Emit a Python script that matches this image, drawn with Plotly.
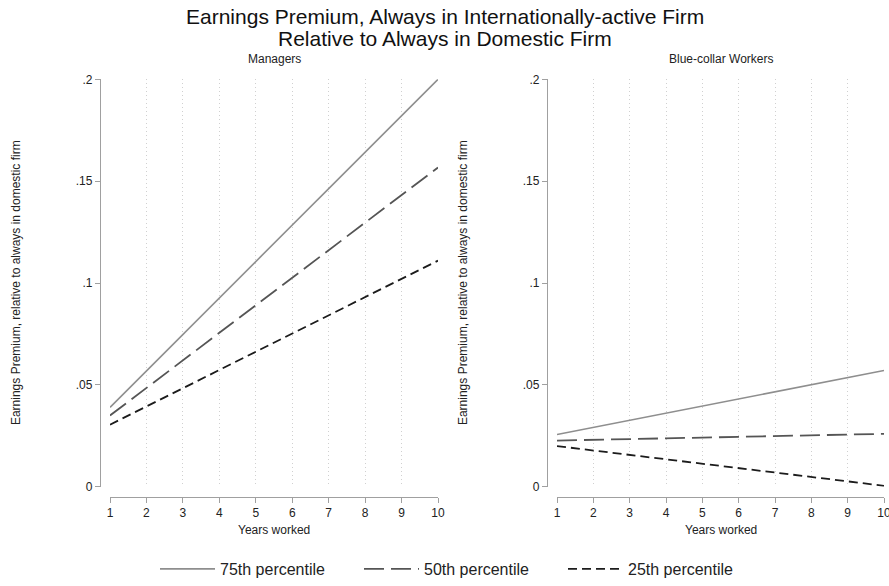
import plotly.graph_objects as go

W, H = 889, 586

years = [1, 2, 3, 4, 5, 6, 7, 8, 9, 10]

# Managers
mgr_p75 = [0.039, 0.0569, 0.0748, 0.0927, 0.1106, 0.1284, 0.1463, 0.1642, 0.1821, 0.200]
mgr_p50 = [0.035, 0.0485, 0.0620, 0.0756, 0.0891, 0.1026, 0.1161, 0.1296, 0.1432, 0.1567]
mgr_p25 = [0.0305, 0.0394, 0.0484, 0.0573, 0.0663, 0.0752, 0.0842, 0.0931, 0.1021, 0.111]

# Blue-collar workers
bc_p75 = [0.0257, 0.0292, 0.0327, 0.0362, 0.0397, 0.0431, 0.0466, 0.0501, 0.0536, 0.0571]
bc_p50 = [0.0227, 0.0231, 0.0234, 0.0238, 0.0242, 0.0245, 0.0249, 0.0253, 0.0256, 0.0260]
bc_p25 = [0.0200, 0.0178, 0.0157, 0.0135, 0.0113, 0.0092, 0.0070, 0.0048, 0.0027, 0.0005]

series_names = ["75th percentile", "50th percentile", "25th percentile"]
ytickvals = [0, 0.05, 0.1, 0.15, 0.2]
yticktext = ["0", ".05", ".1", ".15", ".2"]
panel_titles = ["Managers", "Blue-collar Workers"]
title_lines = ["Earnings Premium, Always in Internationally-active Firm",
               "Relative to Always in Domestic Firm"]
ytitle = "Earnings Premium, relative to always in domestic firm"
xtitle = "Years worked"

styles = [
    dict(color="#8e8e8e", width=1.6, dash="solid"),
    dict(color="#555555", width=1.8, dash="20px,7px"),
    dict(color="#1c1c1c", width=1.8, dash="9px,5px"),
]

FONT = "Liberation Sans, Arial, sans-serif"

def px(x):
    return x / W

def py(y):
    return 1 - y / H

fig = go.Figure()

panels = [
    (mgr_p75, mgr_p50, mgr_p25),
    (bc_p75, bc_p50, bc_p25),
]
for pi, data in enumerate(panels):
    xa = "x" if pi == 0 else "x2"
    ya = "y" if pi == 0 else "y2"
    for si, vals in enumerate(data):
        fig.add_trace(go.Scatter(
            x=years, y=vals, mode="lines", name=series_names[si],
            line=styles[si], xaxis=xa, yaxis=ya, showlegend=(pi == 0),
            cliponaxis=False,
        ))

ydom = [py(491), py(80)]
xdoms = [[px(110), px(438)], [px(557), px(884)]]
yaxpos = [px(100), px(547)]
xaxpos = py(501)

common_x = dict(
    range=[1, 10], tickvals=years, ticks="outside", ticklen=5, tickcolor="#a0a0a0",
    showline=True, linecolor="#a0a0a0", linewidth=1.3,
    showgrid=True, gridcolor="#d0d0d0", griddash="1px,3px", gridwidth=1,
    zeroline=False, tickfont=dict(size=12, color="#222", family=FONT),
    anchor="free", position=xaxpos, automargin=False, fixedrange=True,
    ticklabeloverflow="allow",
)
common_y = dict(
    range=[0, 0.2], tickvals=ytickvals, ticktext=yticktext, ticks="outside", ticklen=5,
    tickcolor="#a0a0a0", showline=True, linecolor="#a0a0a0", linewidth=1.3,
    showgrid=False, zeroline=False, domain=ydom,
    tickfont=dict(size=12, color="#222", family=FONT),
    anchor="free", automargin=False, fixedrange=True,
)

fig.update_layout(
    width=W, height=H,
    margin=dict(l=0, r=0, t=0, b=0),
    paper_bgcolor="white", plot_bgcolor="white",
    font=dict(family=FONT, color="#222"),
    xaxis=dict(domain=xdoms[0], **common_x),
    xaxis2=dict(domain=xdoms[1], **common_x),
    yaxis=dict(position=yaxpos[0], **common_y),
    yaxis2=dict(position=yaxpos[1], **common_y),
    showlegend=True,
    legend=dict(orientation="h", x=px(155), xanchor="left", y=py(574), yanchor="middle",
                font=dict(size=16, color="#222", family=FONT), entrywidth=134,
                itemwidth=55,
                bgcolor="rgba(0,0,0,0)"),
)

ann = []
for li, (line, yy) in enumerate(zip(title_lines, [17, 39])):
    ann.append(dict(text=line, x=0.5, y=py(yy), xref="paper", yref="paper",
                    showarrow=False, font=dict(size=21, color="#111", family=FONT),
                    xanchor="center", yanchor="middle"))
for i in range(2):
    cx = (xdoms[i][0] + xdoms[i][1]) / 2
    ann.append(dict(text=panel_titles[i], x=cx, y=py(60), xref="paper", yref="paper",
                    showarrow=False, font=dict(size=12, color="#222", family=FONT),
                    xanchor="center", yanchor="middle"))
    ann.append(dict(text=xtitle, x=cx, y=py(535), xref="paper", yref="paper",
                    showarrow=False, font=dict(size=12, color="#222", family=FONT),
                    xanchor="center", yanchor="middle"))
    ann.append(dict(text=ytitle, x=px([16, 463][i]), y=(ydom[0] + ydom[1]) / 2,
                    xref="paper", yref="paper", textangle=-90,
                    showarrow=False, font=dict(size=12, color="#222", family=FONT),
                    xanchor="center", yanchor="middle"))
fig.update_layout(annotations=ann)

fig.write_html("out.html", config={"displayModeBar": False},
               post_script="document.body.style.margin='0';document.body.style.overflow='hidden';")
